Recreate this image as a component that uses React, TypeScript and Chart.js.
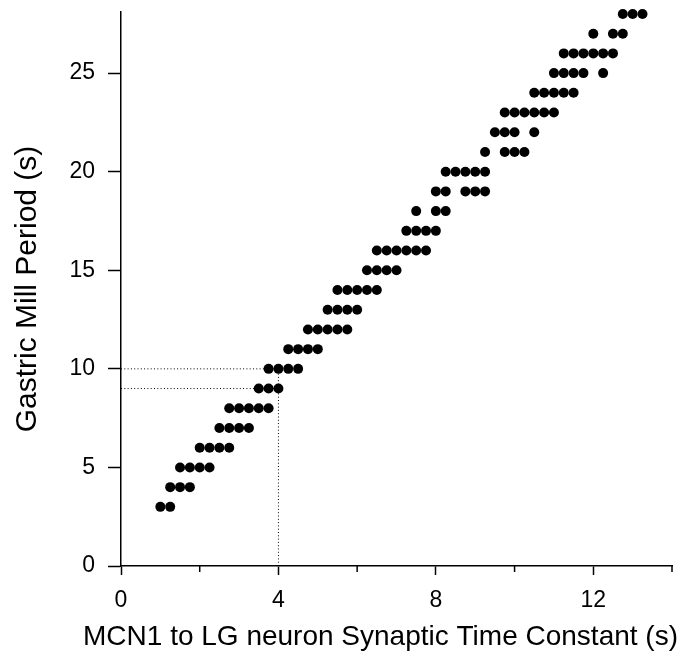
import { useEffect, useRef } from 'react';
import { Chart, registerables } from 'chart.js';

Chart.register(...registerables);

// Gastric mill period (s), one row of dots per value
const periodRows = [3, 4, 5, 6, 7, 8, 9, 10, 11, 12, 13, 14, 15, 16, 17, 18, 19, 20, 21, 22, 23, 24, 25, 26, 27, 28];

// MCN1 -> LG synaptic time constant (s) values for each period row
const tauRows = [
  [1.0, 1.25],
  [1.25, 1.5, 1.75],
  [1.5, 1.75, 2.0, 2.25],
  [2.0, 2.25, 2.5, 2.75],
  [2.5, 2.75, 3.0, 3.25],
  [2.75, 3.0, 3.25, 3.5, 3.75],
  [3.5, 3.75, 4.0],
  [3.75, 4.0, 4.25, 4.5],
  [4.25, 4.5, 4.75, 5.0],
  [4.75, 5.0, 5.25, 5.5, 5.75],
  [5.25, 5.5, 5.75, 6.0],
  [5.5, 5.75, 6.0, 6.25, 6.5],
  [6.25, 6.5, 6.75, 7.0],
  [6.5, 6.75, 7.0, 7.25, 7.5, 7.75],
  [7.25, 7.5, 7.75, 8.0],
  [7.5, 8.0, 8.25],
  [8.0, 8.25, 8.75, 9.0, 9.25],
  [8.25, 8.5, 8.75, 9.0, 9.25],
  [9.25, 9.75, 10.0, 10.25],
  [9.5, 9.75, 10.0, 10.5],
  [9.75, 10.0, 10.25, 10.5, 10.75, 11.0],
  [10.5, 10.75, 11.0, 11.25, 11.5],
  [11.0, 11.25, 11.5, 11.75, 12.25],
  [11.25, 11.5, 11.75, 12.0, 12.25, 12.5],
  [12.0, 12.5, 12.75],
  [12.75, 13.0, 13.25],
];

// dotted guide lines
const guideTau = 4;
const guidePeriods = [9, 10];

const xTicksMajor = [0, 4, 8, 12];
const xTicksMinor = [2, 6, 10, 14];
const yTicks = [0, 5, 10, 15, 20, 25];

const xTitle = 'MCN1 to LG neuron Synaptic Time Constant (s)';
const yTitle = 'Gastric Mill Period (s)';

const FONT = "'Liberation Sans', Arial, Helvetica, sans-serif";

export default function App() {
  const ref = useRef<HTMLCanvasElement | null>(null);

  useEffect(() => {
    if (!ref.current) return;
    const points: { x: number; y: number }[] = [];
    periodRows.forEach((p, i) => {
      tauRows[i].forEach((t) => points.push({ x: t, y: p }));
    });

    const guideSets = guidePeriods.map((p) => ({
      type: 'scatter' as const,
      data: [
        { x: 0, y: p },
        { x: guideTau, y: p },
      ],
      showLine: true,
      borderColor: '#000',
      borderWidth: 1,
      borderDash: [1, 2.3],
      pointRadius: 0,
      order: 2,
    }));

    const minorTicks = {
      id: 'minorTicks',
      afterDraw(chart: any) {
        const { ctx, scales } = chart;
        const xs = scales.x;
        ctx.save();
        ctx.strokeStyle = '#000';
        ctx.lineWidth = 1.5;
        xTicksMinor.forEach((v) => {
          const px = xs.getPixelForValue(v);
          ctx.beginPath();
          ctx.moveTo(px, xs.top);
          ctx.lineTo(px, xs.top + 6);
          ctx.stroke();
        });
        ctx.fillStyle = '#000';
        ctx.font = `28px ${FONT}`;
        ctx.textAlign = 'center';
        ctx.textBaseline = 'middle';
        ctx.fillText(xTitle, (xs.left + xs.right) / 2 - 16, 637);
        ctx.restore();
      },
    };

    const chart = new Chart(ref.current, {
      type: 'scatter',
      data: {
        datasets: [
          {
            data: points,
            backgroundColor: '#000',
            borderColor: '#000',
            borderWidth: 0,
            pointRadius: 5,
            pointHoverRadius: 5,
            order: 1,
            clip: false,
          } as any,
          ...guideSets,
          {
            type: 'scatter',
            data: [
              { x: guideTau, y: 0 },
              { x: guideTau, y: guidePeriods[1] },
            ],
            showLine: true,
            borderColor: '#000',
            borderWidth: 1,
            borderDash: [1, 2.3],
            pointRadius: 0,
            order: 2,
          },
        ],
      },
      options: {
        animation: false,
        responsive: false,
        events: [],
        layout: { padding: { top: 12, right: 23, left: 0, bottom: 0 } },
        plugins: { legend: { display: false }, tooltip: { enabled: false } },
        scales: {
          x: {
            type: 'linear',
            position: 'bottom',
            min: 0,
            max: 14,
            afterFit: (s: any) => {
              s.height = 88;
              s.paddingLeft = 0;
              s.paddingRight = 0;
            },
            afterBuildTicks: (s: any) => {
              s.ticks = xTicksMajor.map((v) => ({ value: v }));
            },
            ticks: {
              stepSize: 4,
              includeBounds: false,
              color: '#000',
              padding: 12,
              maxRotation: 0,
              font: { family: FONT, size: 23 },
            },
            grid: {
              display: true,
              drawOnChartArea: false,
              drawTicks: true,
              tickLength: 9,
              tickColor: '#000',
              tickWidth: 1.5,
            },
            border: { display: true, color: '#000', width: 1.5 },
          },
          y: {
            type: 'linear',
            min: 0,
            max: 28.1,
            afterFit: (s: any) => {
              s.width = 121;
              s.paddingTop = 0;
              s.paddingBottom = 0;
            },
            afterBuildTicks: (s: any) => {
              s.ticks = yTicks.map((v) => ({ value: v }));
            },
            ticks: {
              stepSize: 5,
              includeBounds: false,
              color: '#000',
              padding: 13,
              font: { family: FONT, size: 23 },
            },
            grid: {
              display: true,
              drawOnChartArea: false,
              drawTicks: true,
              tickLength: 13,
              tickColor: '#000',
              tickWidth: 1.5,
            },
            border: { display: true, color: '#000', width: 1.5 },
            title: {
              display: true,
              text: yTitle,
              color: '#000',
              font: { family: FONT, size: 30 },
              padding: { top: 10, bottom: 0 },
            },
          },
        },
      },
      plugins: [minorTicks],
    });
    return () => chart.destroy();
  }, []);

  return (
    <div style={{ position: 'absolute', left: 0, top: 0, width: 695, height: 654, background: '#fff' }}>
      <canvas ref={ref} width={695} height={654} style={{ display: 'block' }} />
    </div>
  );
}
